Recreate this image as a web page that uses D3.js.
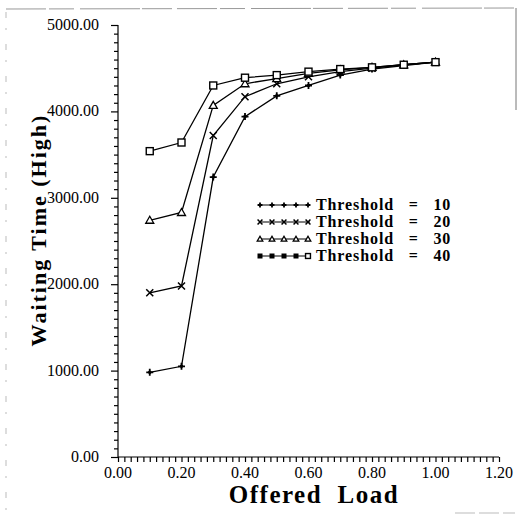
<!DOCTYPE html>
<html><head><meta charset="utf-8">
<script src="https://cdn.jsdelivr.net/npm/d3@7"></script>
<style>body{margin:0;background:#fff}svg{display:block}</style>
</head><body>
<svg id="c" width="519" height="517"></svg>
<script>
const loads = [0.1,0.2,0.3,0.4,0.5,0.6,0.7,0.8,0.9,1.0];
const t10 = [980,1050,3240,3940,4180,4300,4420,4490,4530,4570];
const t20 = [1900,1980,3720,4170,4320,4400,4460,4500,4540,4570];
const t30 = [2740,2830,4070,4320,4380,4440,4480,4510,4540,4570];
const t40 = [3540,3640,4300,4390,4420,4460,4490,4510,4540,4570];
const seriesNames = ["Threshold   =   10","Threshold   =   20","Threshold   =   30","Threshold   =   40"];
const markers = ["plus","cross","triangle","square"];
const xTicks = [0,0.2,0.4,0.6,0.8,1.0,1.2];
const yTicks = [0,1000,2000,3000,4000,5000];
const xTitle = "Offered  Load";
const yTitle = "Waiting Time (High)";

const svg = d3.select("#c");
const x = d3.scaleLinear().domain([0,1.2]).range([118,499]);
const y = d3.scaleLinear().domain([0,5000]).range([457,25]);

// scan border
const g0 = svg.append("g").attr("stroke","#999").attr("fill","none");
g0.append("line").attr("x1",6).attr("y1",9).attr("x2",516).attr("y2",8).attr("stroke-dasharray","40,3,25,6,60,2,30,5").attr("stroke-width",1);
g0.append("line").attr("x1",516).attr("y1",8).attr("x2",516).attr("y2",110).attr("stroke","#777");
g0.append("line").attr("x1",6).attr("y1",12).attr("x2",6).attr("y2",512).attr("stroke","#bbb").attr("stroke-dasharray","6,10,2,14");
g0.append("line").attr("x1",455).attr("y1",513).attr("x2",515).attr("y2",513).attr("stroke","#bbb").attr("stroke-dasharray","20,4");

// axes
const ax = svg.append("g").attr("transform","translate(0,457)")
  .call(d3.axisBottom(x).tickValues(d3.range(0,1.2001,0.02)).tickSize(5).tickFormat(""));
ax.selectAll("path,line").attr("stroke","#000").attr("stroke-width",1.2);
ax.select(".domain").attr("d","M118,0H499");
const ay = svg.append("g").attr("transform","translate(118,0)")
  .call(d3.axisLeft(y).tickValues(d3.range(0,5001,100)).tickSize(4).tickFormat(""));
ay.selectAll("path,line").attr("stroke","#000").attr("stroke-width",1.2);
ay.select(".domain").attr("d","M0,457V25");
ay.selectAll(".tick line").filter(d=>d%1000===0).attr("x2",-7);

svg.append("g").selectAll("text").data(xTicks).join("text")
  .attr("x",d=>x(d)).attr("y",478).attr("text-anchor","middle")
  .attr("font-family","Liberation Serif").attr("font-size",16)
  .text(d=>d.toFixed(2));
svg.append("g").selectAll("text").data(yTicks).join("text")
  .attr("x",99).attr("y",d=>y(d)+5).attr("text-anchor","end")
  .attr("font-family","Liberation Serif").attr("font-size",16)
  .text(d=>d.toFixed(2));

svg.append("text").attr("x",314).attr("y",503).attr("text-anchor","middle")
  .attr("font-family","Liberation Serif").attr("font-weight","bold").attr("font-size",25)
  .attr("letter-spacing",1.5).style("white-space","pre").text(xTitle);
svg.append("text").attr("transform","translate(46,230) rotate(-90)").attr("text-anchor","middle")
  .attr("font-family","Liberation Serif").attr("font-weight","bold").attr("font-size",22)
  .attr("letter-spacing",2).text(yTitle);

const data = [t10,t20,t30,t40];
function drawMarker(g, type, cx, cy, s){
  s = s||1;
  if(type==="plus"){
    g.append("path").attr("d",`M${cx-3.5*s},${cy}H${cx+3.5*s}M${cx},${cy-3.5*s}V${cy+3.5*s}`).attr("stroke","#000").attr("stroke-width",1.8);
    g.append("circle").attr("cx",cx).attr("cy",cy).attr("r",1.8*s).attr("fill","#000");
  } else if(type==="cross"){
    g.append("path").attr("d",`M${cx-3.5*s},${cy-3.5*s}L${cx+3.5*s},${cy+3.5*s}M${cx-3.5*s},${cy+3.5*s}L${cx+3.5*s},${cy-3.5*s}`).attr("stroke","#000").attr("stroke-width",1.5);
  } else if(type==="triangle"){
    g.append("path").attr("d",`M${cx},${cy-4*s}L${cx+4*s},${cy+3*s}L${cx-4*s},${cy+3*s}Z`).attr("stroke","#000").attr("stroke-width",1.3).attr("fill","#fff");
  } else {
    g.append("rect").attr("x",cx-3.5*s).attr("y",cy-3.5*s).attr("width",7*s).attr("height",7*s).attr("stroke","#000").attr("stroke-width",1.4).attr("fill","#fff");
  }
}
const line = d3.line().x((d,i)=>x(loads[i])).y(d=>y(d));
data.forEach((s,k)=>{
  const g = svg.append("g");
  g.append("path").datum(s).attr("d",line).attr("fill","none").attr("stroke","#000").attr("stroke-width",1.3);
  s.forEach((v,i)=>drawMarker(g, markers[k], x(loads[i]), y(v)));
});

// legend
const legY = [205,222,239,256];
seriesNames.forEach((nm,k)=>{
  const g = svg.append("g");
  const yy = legY[k];
  g.append("line").attr("x1",259).attr("x2",310).attr("y1",yy).attr("y2",yy).attr("stroke","#000").attr("stroke-width",1.2);
  d3.range(5).forEach(j=>{
    const cx = 260+j*12;
    if(markers[k]==="square" && j<4){
      g.append("rect").attr("x",cx-2.5).attr("y",yy-2.5).attr("width",5).attr("height",5).attr("fill","#000");
    } else drawMarker(g, markers[k], cx, yy, 0.7);
  });
  g.append("text").attr("x",316).attr("y",yy+5).attr("font-family","Liberation Serif").attr("font-weight","bold")
    .attr("font-size",16).attr("letter-spacing",0.9).style("white-space","pre").text(nm);
});
</script>
</body></html>
